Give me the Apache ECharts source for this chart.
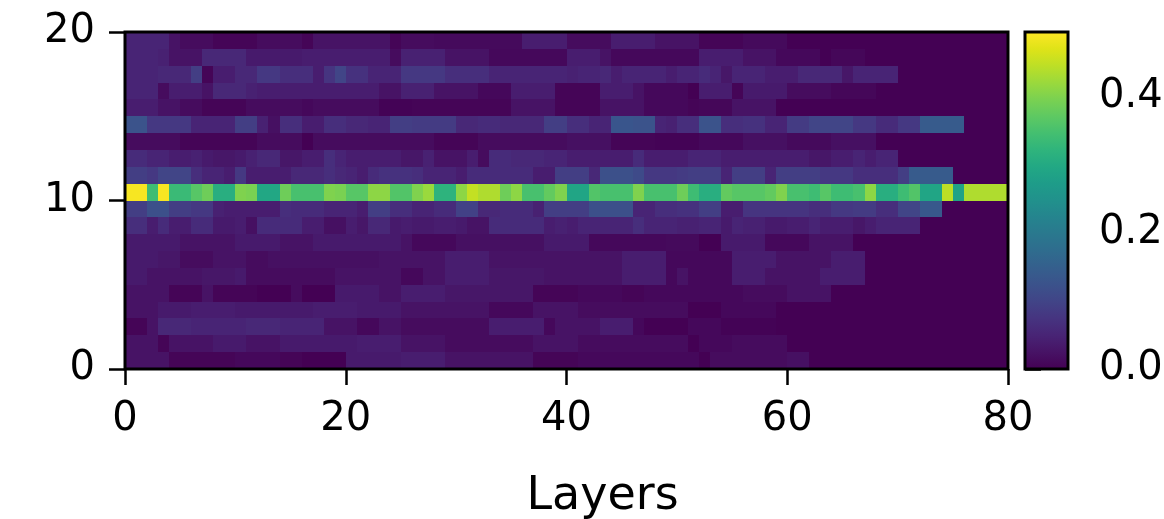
<!DOCTYPE html>
<html>
<head>
<meta charset="utf-8">
<script src="https://cdn.jsdelivr.net/npm/echarts@6/dist/echarts.min.js"></script>
<style>
  html, body { margin: 0; padding: 0; background: #fff; }
  #chart { width: 1164px; height: 519px; }
</style>
</head>
<body>
<div id="chart"></div>
<script>
// Per-layer values, one array per row (row index = y bin, array index = layer)
const row00 = [.025,.025,.025,.025,.005,.005,.005,.005,.005,.005, .01,.01,.01,.01,.005,.005,0,0,0,0, .035,.035,.035,.035,.035,.04,.04,.04,.04,.025, .025,.025,.025,.025,.025,.025,.025,.005,.005,.005, .005,.01,.01,.01,.01,.01,.01,.01,.01,.01, .01,.01,0,.015,.015,.015,.015,.015,.015,.015, .02,.02,0,0,0,0,0,0,0,0, 0,0,0,0,0,0,0,0,0,0];
const row01 = [.025,.025,.025,.005,.025,.025,.025,.025,.035,.035, .035,.025,.025,.025,.035,.035,.035,.035,.035,.035, .035,.04,.04,.04,.04,.025,.025,.025,.025,.015, .015,.015,.015,.015,.015,.015,.015,.025,.025,.025, .025,.015,.015,.015,.015,.015,.015,.015,.015,.015, .015,0,.01,.01,.01,.015,.015,.015,.015,.015, 0,0,0,0,0,0,0,0,0,0, 0,0,0,0,0,0,0,0,0,0];
const row02 = [.005,.005,.025,.055,.055,.055,.05,.05,.05,.05, .05,.055,.055,.055,.05,.05,.05,.05,.025,.025, .025,.01,.01,.025,.025,.015,.015,.015,.015,.015, .015,.015,.015,.04,.04,.04,.04,.04,.01,.025, .025,.025,.025,.04,.04,.04,.01,0,0,0, 0,.01,.01,.01,.003,.003,.003,.003,.003,0, 0,0,0,0,0,0,0,0,0,0, 0,0,0,0,0,0,0,0,0,0];
const row03 = [.025,.025,.025,.035,.035,.035,.04,.04,.04,.04, .035,.035,.035,.035,.035,.035,.035,.04,.04,.04, .04,.035,.035,.035,.035,.025,.025,.025,.025,.025, .025,.025,.025,.01,.01,.01,.01,.025,.025,.025, .025,.015,.015,.015,.015,.015,.015,.015,.015,.015, .015,0,0,0,.01,.01,.01,.01,.01,0, 0,0,0,0,0,0,0,0,0,0, 0,0,0,0,0,0,0,0,0,0];
const row04 = [.025,.025,.025,.025,.005,.005,.005,.025,.005,.005, .005,.005,0,0,0,.015,0,0,0,.035, .035,.035,.035,.025,.025,.04,.04,.04,.04,.03, .03,.03,.03,.03,.03,.03,.03,.005,.005,.005, .005,.01,.01,.01,.01,.005,.005,.01,.01,.01, .01,.01,.01,.01,.01,.01,.015,.015,.015,.015, .025,.025,.025,.025,0,0,0,0,0,0, 0,0,0,0,0,0,0,0,0,0];
const row05 = [.035,.035,.025,.025,.025,.025,.025,.03,.03,.03, .035,.015,.015,.015,.015,.015,.015,.015,.015,.025, .025,.025,.025,.025,.025,.01,.01,.025,.025,.04, .04,.04,.04,.03,.03,.03,.03,.03,.025,.025, .025,.025,.025,.025,.025,.04,.04,.04,.04,.01, .025,.01,.01,.01,.01,.04,.04,.04,.025,.025, .025,.025,.025,.04,.04,.04,.04,0,0,0, 0,0,0,0,0,0,0,0,0,0];
const row06 = [.035,.035,.035,.03,.03,.015,.015,.015,.025,.025, .025,.015,.015,.02,.02,.02,.02,.02,.02,.02, .02,.02,.02,.025,.025,.025,.025,.025,.025,.04, .04,.04,.04,.025,.025,.025,.025,.025,.025,.025, .025,.025,.025,.025,.025,.04,.04,.04,.04,.01, .01,.01,.01,.01,.01,.04,.04,.04,.04,.025, .025,.025,.025,.025,.04,.04,.04,0,0,0, 0,0,0,0,0,0,0,0,0,0];
const row07 = [.035,.035,.035,.035,.035,.025,.025,.025,.025,.025, .035,.035,.035,.035,.025,.025,.025,.035,.035,.035, .035,.035,.035,.035,.035,.025,.01,.01,.01,.01, .02,.02,.02,.02,.02,.02,.02,.02,.035,.035, .035,.035,.01,.01,.01,.01,.01,.01,.01,.012, .012,.012,0,0,.035,.035,.035,.035,.01,.01, .01,.01,.025,.025,.025,.025,0,0,0,0, 0,0,0,0,0,0,0,0,0,0];
const row08 = [.065,.065,.04,.06,.04,.04,.06,.06,.035,.035, .04,.02,.06,.06,.06,.06,.04,.04,.02,.02, .04,.03,.055,.055,.035,.04,.035,.035,.04,.04, .035,.025,.025,.06,.06,.06,.06,.06,.04,.045, .04,.05,.05,.05,.05,.05,.065,.05,.05,.05, .045,.045,.05,.05,.035,.05,.045,.045,.035,.035, .04,.04,.05,.04,.04,.04,.03,.04,.05,.05, .05,.05,0,0,0,0,0,0,0,0];
const row09 = [.09,.09,.12,.12,.09,.09,.08,.08,.045,.04, .04,.04,.04,.04,.065,.06,.06,.06,.05,.05, .05,.04,.09,.09,.065,.065,.05,.05,.06,.06, .095,.095,.055,.055,.06,.06,.06,.045,.09,.09, .09,.09,.12,.12,.12,.12,.05,.05,.065,.065, .07,.07,.09,.09,.04,.04,.075,.075,.075,.075, .075,.075,.065,.065,.08,.08,.085,.085,.065,.065, .10,.10,.135,.135,0,0,0,0,0,0];
const row10 = [.49,.49,.34,.49,.335,.335,.365,.385,.31,.31, .40,.395,.295,.295,.385,.35,.35,.35,.40,.395, .365,.365,.41,.41,.36,.36,.40,.42,.32,.32, .41,.45,.435,.435,.385,.41,.35,.35,.375,.40, .29,.29,.36,.35,.35,.35,.40,.35,.35,.35, .385,.34,.31,.31,.375,.365,.365,.365,.375,.40, .35,.35,.34,.365,.34,.34,.35,.41,.31,.31, .34,.36,.29,.29,.445,.285,.435,.435,.435,.435];
const row11 = [.09,.09,.08,.10,.10,.10,.065,.05,.05,.04, .08,.04,.04,.04,.04,.055,.055,.055,.065,.055, .05,.04,.06,.07,.07,.07,.065,.05,.05,.05, .04,.06,.06,.06,.06,.06,.06,.04,.04,.09, .09,.09,.055,.12,.12,.12,.11,.08,.08,.08, .085,.09,.09,.09,.05,.09,.09,.09,.05,.09, .09,.09,.09,.08,.08,.08,.065,.065,.065,.065, .09,.14,.14,.14,.14,0,0,0,0,0];
const row12 = [.06,.06,.05,.05,.04,.04,.045,.035,.03,.03, .035,.045,.055,.055,.03,.03,.04,.04,.065,.05, .04,.04,.04,.04,.04,.03,.03,.045,.025,.025, .025,.04,.015,.06,.06,.055,.055,.055,.05,.05, .04,.04,.04,.04,.04,.04,.06,.04,.04,.04, .04,.05,.05,.05,.04,.04,.04,.04,.04,.04, .04,.04,.03,.03,.04,.04,.05,.04,.05,.05, 0,0,0,0,0,0,0,0,0,0];
const row13 = [.015,.015,.015,.015,.015,.005,.005,.005,.005,.005, .005,.005,.015,.015,.015,.015,0,.015,.015,.015, .015,.015,.015,.015,.015,.015,.015,.015,.005,.005, .005,.005,.015,.015,.015,.015,.015,.015,.015,.015, .02,.02,.02,.02,.005,.005,.005,.005,.003,.003, .003,.003,.01,.01,.01,.01,.02,.02,.02,.02, .012,.012,.012,.012,.02,.02,.02,.02,0,0, 0,0,0,0,0,0,0,0,0,0];
const row14 = [.125,.125,.08,.08,.08,.08,.05,.05,.05,.05, .09,.09,.045,.02,.065,.065,.04,.04,.065,.065, .055,.055,.05,.05,.09,.09,.085,.085,.085,.085, .055,.055,.06,.06,.055,.055,.055,.055,.09,.09, .065,.065,.05,.05,.13,.13,.125,.125,.05,.045, .065,.065,.125,.125,.065,.065,.07,.07,.05,.05, .085,.085,.10,.10,.10,.10,.08,.08,.06,.06, .08,.08,.14,.14,.14,.14,0,0,0,0];
const row15 = [.04,.04,.04,.025,.025,.015,.015,.005,.005,.005, .005,.015,.015,.015,.015,.015,.01,.015,.015,.015, .015,.015,.015,.003,.003,.003,.005,.005,.005,.005, .005,.005,.005,.005,.005,.025,.025,.025,.025,.005, .005,.005,.005,.025,.025,.025,.025,.01,.01,.01, .01,.005,.008,.008,.008,.025,.025,.025,.025,0, 0,0,0,0,0,0,0,0,0,0, 0,0,0,0,0,0,0,0,0,0];
const row16 = [.05,.05,.05,.015,.04,.04,.04,.025,.055,.055, .055,.045,.04,.04,.04,.04,.04,.04,.04,.04, .04,.04,.04,.025,.025,.045,.045,.045,.025,.025, .025,.025,.01,.01,.01,.04,.04,.04,.04,.005, .005,.005,.005,.04,.04,.04,.025,.01,.01,.01, .01,0,.04,.04,.04,.005,.035,.035,.035,.035, .015,.015,.015,.015,.008,.008,.008,.008,0,0, 0,0,0,0,0,0,0,0,0,0];
const row17 = [.05,.05,.05,.055,.055,.055,.09,.005,.04,.04, .055,.055,.08,.08,.065,.065,.065,.04,.075,.10, .07,.07,.05,.05,.05,.08,.08,.08,.08,.065, .065,.065,.065,.05,.05,.05,.05,.05,.05,.05, .045,.05,.05,.055,.04,.05,.05,.05,.05,.04, .05,.05,.06,.05,.03,.05,.05,.05,.04,.04, .04,.055,.055,.055,.055,.03,.05,.05,.05,.05, 0,0,0,0,0,0,0,0,0,0];
const row18 = [.05,.05,.05,.045,.025,.025,.025,.055,.055,.055, .055,.035,.035,.035,.035,.035,.04,.04,.04,.04, .04,.04,.04,.04,.015,.045,.045,.045,.045,.025, .025,.025,.025,.01,.01,.01,.01,.01,.01,.01, .04,.04,.04,.025,.01,.01,.01,.01,.01,.01, .01,.01,.04,.04,.04,.04,.025,.025,.025,.01, .01,.01,.01,0,.008,.008,.008,0,0,0, 0,0,0,0,0,0,0,0,0,0];
const row19 = [.05,.05,.05,.05,.025,.015,.015,.015,.005,.005, .005,.005,.015,.015,.015,.015,.005,.025,.025,.025, .025,.025,.025,.025,.005,.015,.015,.015,.012,.012, .012,.012,.012,.012,.012,.012,.04,.04,.04,.04, .015,.015,.015,.015,.04,.04,.04,.04,.025,.025, .025,.025,.005,.005,.005,.005,.012,.012,.012,.012, 0,0,0,0,0,0,0,0,0,0, 0,0,0,0,0,0,0,0,0,0];

// Axis ticks
const layerTicks = [0, 20, 40, 60, 80];
const rowTicks = [0, 10, 20];
const colorTicks = [0, 0.2, 0.4];
const colorMax = 0.495;

// viridis colormap stops
const viridis = ['#440154','#471365','#482475','#463480','#414487','#3b528b','#355f8d','#2f6c8e','#2a788e','#25848e',
                 '#21918c','#1e9c89','#22a884','#2fb47c','#44bf70','#5ec962','#7ad151','#9bd93c','#bddf26','#dfe318','#fde725'];

const rows = [row00,row01,row02,row03,row04,row05,row06,row07,row08,row09,
              row10,row11,row12,row13,row14,row15,row16,row17,row18,row19];
const cells = [];
rows.forEach((r, y) => r.forEach((v, x) => cells.push([x, y, v])));

const FONT = 'DejaVu Sans';
const tickStyle = { show: true, inside: false, length: 16, lineStyle: { color: '#000', width: 2.5 } };
const labelStyle = { color: '#000', fontSize: 40, fontFamily: FONT };

const chart = echarts.init(document.getElementById('chart'), null, { renderer: 'canvas' });
chart.setOption({
  animation: false,
  backgroundColor: '#fff',
  grid: [
    { left: 125, top: 32, width: 883, height: 337, outerBoundsMode: 'none', containLabel: false,
      show: true, borderColor: '#000', borderWidth: 3, z: 5 },
    { left: 1025, top: 32, width: 43, height: 337, outerBoundsMode: 'none', containLabel: false,
      show: true, borderColor: '#000', borderWidth: 3, z: 5 }
  ],
  xAxis: [
    {
      gridIndex: 0, type: 'value', min: layerTicks[0], max: layerTicks[layerTicks.length - 1], interval: 20,
      axisLine: { show: false }, splitLine: { show: false },
      axisTick: tickStyle,
      axisLabel: Object.assign({ margin: 31 }, labelStyle),
      name: 'Layers', nameLocation: 'middle', nameGap: 105,
      nameTextStyle: { color: '#000', fontSize: 46, fontFamily: FONT, padding: [0, 0, 0, 72] }
    },
    { gridIndex: 1, type: 'value', min: 0, max: 1, show: false }
  ],
  yAxis: [
    {
      gridIndex: 0, type: 'value', min: rowTicks[0], max: rowTicks[rowTicks.length - 1], interval: 10,
      axisLine: { show: false }, splitLine: { show: false },
      axisTick: tickStyle,
      axisLabel: Object.assign({ margin: 30 }, labelStyle)
    },
    {
      gridIndex: 1, type: 'value', min: 0, max: colorMax, position: 'right',
      axisLine: { show: false }, splitLine: { show: false },
      axisTick: Object.assign({ customValues: colorTicks }, tickStyle),
      axisLabel: Object.assign({ margin: 31, customValues: colorTicks, formatter: v => v.toFixed(1) }, labelStyle)
    }
  ],
  visualMap: {
    show: false, type: 'continuous', seriesIndex: 0, dimension: 2,
    min: 0, max: colorMax, inRange: { color: viridis }
  },
  series: [
    {
      // heatmap cells, snapped to whole pixels so neighbours meet without seams
      type: 'custom', xAxisIndex: 0, yAxisIndex: 0, data: cells,
      encode: { x: 0, y: 1 },
      renderItem: (params, api) => {
        const x = api.value(0), y = api.value(1);
        const tl = api.coord([x, y + 1]);
        const br = api.coord([x + 1, y]);
        const x0 = Math.round(tl[0]), y0 = Math.round(tl[1]);
        const x1 = Math.round(br[0]), y1 = Math.round(br[1]);
        return {
          type: 'rect',
          shape: { x: x0, y: y0, width: x1 - x0, height: y1 - y0 },
          style: { fill: api.visual('color') }
        };
      }
    },
    {
      // colorbar
      type: 'custom', xAxisIndex: 1, yAxisIndex: 1, data: [[0, colorMax]],
      renderItem: (params, api) => {
        const a = api.coord([0, 0]);
        const b = api.coord([1, colorMax]);
        const stops = viridis.map((c, i) => ({ offset: i / (viridis.length - 1), color: c }));
        return {
          type: 'rect',
          shape: { x: a[0], y: b[1], width: b[0] - a[0], height: a[1] - b[1] },
          style: { fill: new echarts.graphic.LinearGradient(0, 1, 0, 0, stops) }
        };
      }
    }
  ]
});
</script>
</body>
</html>
